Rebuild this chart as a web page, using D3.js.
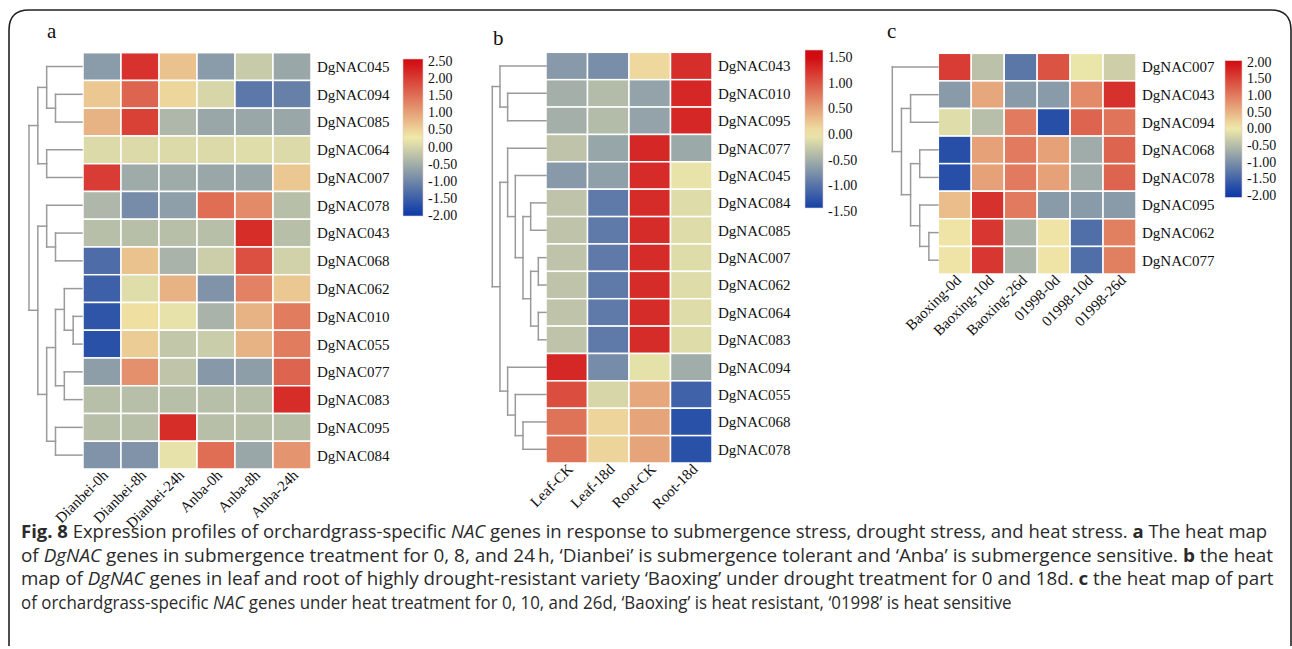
<!DOCTYPE html>
<html>
<head>
<meta charset="utf-8">
<script src="https://cdn.jsdelivr.net/npm/d3@7"></script>
<style>
  body { margin: 0; background: #fff; }
  text { font-family: "Liberation Serif", "Times New Roman", serif; fill: #111; }
  .cap text { font-family: "Open Sans", "Noto Sans", sans-serif; }
</style>
</head>
<body>
<div id="chart"></div>
<script>
// ---- panel a: submergence ----
const genesA = ["DgNAC045","DgNAC094","DgNAC085","DgNAC064","DgNAC007","DgNAC078","DgNAC043","DgNAC068",
                "DgNAC062","DgNAC010","DgNAC055","DgNAC077","DgNAC083","DgNAC095","DgNAC084"];
const samplesA = ["Dianbei-0h","Dianbei-8h","Dianbei-24h","Anba-0h","Anba-8h","Anba-24h"];
const valuesA = [
  [-0.75, 2.1, 0.65, -0.75, -0.15, -0.6],
  [0.6, 1.6, 0.45, 0.0, -1.2, -1.1],
  [0.8, 1.95, -0.4, -0.6, -0.6, -0.6],
  [0.05, 0.05, 0.05, 0.05, 0.08, 0.05],
  [2.0, -0.55, -0.55, -0.6, -0.6, 0.6],
  [-0.4, -0.95, -0.7, 1.5, 1.2, -0.3],
  [-0.3, -0.3, -0.3, -0.3, 2.15, -0.3],
  [-1.35, 0.65, -0.45, -0.1, 1.8, -0.05],
  [-1.5, 0.08, 0.8, -0.85, 1.3, 0.6],
  [-1.65, 0.35, 0.15, -0.45, 0.8, 1.35],
  [-1.7, 0.55, -0.2, -0.12, 0.8, 1.35],
  [-0.72, 1.15, -0.22, -0.78, -0.72, 1.6],
  [-0.3, -0.3, -0.3, -0.3, -0.3, 2.15],
  [-0.3, -0.3, 2.15, -0.3, -0.3, -0.3],
  [-0.85, -0.85, 0.15, 1.5, -0.6, 1.1]
];
// [height, child, child]
const treeA = [6,
  [5, [4, "DgNAC045", [3, "DgNAC094", "DgNAC085"]], [4, "DgNAC064", "DgNAC007"]],
  [5, [4, "DgNAC078", [3, "DgNAC043", "DgNAC068"]],
      [4, [3, [2, "DgNAC062", [1, "DgNAC010", "DgNAC055"]], [2, "DgNAC077", "DgNAC083"]],
          [3, "DgNAC095", "DgNAC084"]]]
];
const ticksA = [2.5, 2, 1.5, 1, 0.5, 0, -0.5, -1, -1.5, -2];

// ---- panel b: drought ----
const genesB = ["DgNAC043","DgNAC010","DgNAC095","DgNAC077","DgNAC045","DgNAC084","DgNAC085","DgNAC007",
                "DgNAC062","DgNAC064","DgNAC083","DgNAC094","DgNAC055","DgNAC068","DgNAC078"];
const samplesB = ["Leaf-CK","Leaf-18d","Root-CK","Root-18d"];
const valuesB = [
  [-0.68, -0.78, 0.12, 1.25],
  [-0.5, -0.4, -0.6, 1.3],
  [-0.5, -0.4, -0.6, 1.3],
  [-0.33, -0.58, 1.3, -0.55],
  [-0.68, -0.63, 1.28, -0.05],
  [-0.33, -0.95, 1.27, -0.12],
  [-0.33, -0.95, 1.27, -0.12],
  [-0.33, -0.95, 1.27, -0.12],
  [-0.33, -0.95, 1.27, -0.12],
  [-0.33, -0.95, 1.27, -0.12],
  [-0.33, -0.95, 1.27, -0.12],
  [1.3, -0.8, -0.08, -0.52],
  [1.05, -0.17, 0.45, -1.15],
  [0.8, 0.15, 0.47, -1.3],
  [0.8, 0.15, 0.47, -1.3]
];
const treeB = [7,
  [6, "DgNAC043", [5, "DgNAC010", "DgNAC095"]],
  [6, [5, "DgNAC077", [4, "DgNAC045", [3, [2, "DgNAC084", "DgNAC085"],
                                          [2, [1, "DgNAC007", "DgNAC062"], [1, "DgNAC064", "DgNAC083"]]]]],
      [5, "DgNAC094", [4, "DgNAC055", [3, "DgNAC068", "DgNAC078"]]]]
];
const ticksB = [1.5, 1, 0.5, 0, -0.5, -1, -1.5];

// ---- panel c: heat ----
const genesC = ["DgNAC007","DgNAC043","DgNAC094","DgNAC068","DgNAC078","DgNAC095","DgNAC062","DgNAC077"];
const samplesC = ["Baoxing-0d","Baoxing-10d","Baoxing-26d","01998-0d","01998-10d","01998-26d"];
const valuesC = [
  [1.55, -0.45, -1.3, 1.35, -0.05, -0.3],
  [-0.9, 0.6, -0.9, -0.9, 0.85, 1.65],
  [-0.15, -0.5, 1.0, -1.75, 1.2, 1.05],
  [-1.75, 0.65, 1.0, 0.65, -0.7, 1.2],
  [-1.75, 0.65, 1.0, 0.65, -0.7, 1.2],
  [0.4, 1.65, 1.0, -0.9, -0.9, -0.9],
  [0.05, 1.6, -0.6, 0.05, -1.4, 0.95],
  [0.05, 1.6, -0.6, 0.05, -1.4, 0.95]
];
const treeC = [5, "DgNAC007",
  [4, [3, "DgNAC043", "DgNAC094"],
      [3, [2, "DgNAC068", "DgNAC078"], [2, "DgNAC095", [1, "DgNAC062", "DgNAC077"]]]]
];
const ticksC = [2, 1.5, 1, 0.5, 0, -0.5, -1, -1.5, -2];

const colorStops = ["#0b39a8", "#f0eaa9", "#d10a12"];

const W = 1292, H = 649;
const svg = d3.select("#chart").append("svg").attr("width", W).attr("height", H);
const defs = svg.append("defs");

// frame
svg.append("path")
  .attr("d", "M9,646 V30 Q9,10 29,10 H1271 Q1291,10 1291,30 V646")
  .attr("fill", "none").attr("stroke", "#222").attr("stroke-width", 1.6);

const panels = [
  { id: "a", genes: genesA, samples: samplesA, values: valuesA, tree: treeA, ticks: ticksA,
    domain: [-2, 0.25, 2.5], hx: [83, 311], hy: [52.7, 469], tree_x: [82, 29],
    leg: { x: 403, w: 20, y0: 59, y1: 216, t0: 61, t1: 215 }, letter: [47, 38] },
  { id: "b", genes: genesB, samples: samplesB, values: valuesB, tree: treeB, ticks: ticksB,
    domain: [-1.5, 0, 1.5], hx: [546, 712], hy: [52.3, 463], tree_x: [546, 492.3],
    leg: { x: 805, w: 18, y0: 50, y1: 208, t0: 57, t1: 211 }, letter: [493, 45] },
  { id: "c", genes: genesC, samples: samplesC, values: valuesC, tree: treeC, ticks: ticksC,
    domain: [-2, 0, 2], hx: [938.3, 1136], hy: [53.3, 274], tree_x: [938, 892.3],
    leg: { x: 1225, w: 17, y0: 60.7, y1: 197.3, t0: 61.7, t1: 195 }, letter: [887, 38] }
];

panels.forEach(p => {
  const g = svg.append("g");
  const x = d3.scaleBand().domain(p.samples).range(p.hx);
  const y = d3.scaleBand().domain(p.genes).range(p.hy);
  const color = d3.scaleLinear().domain(p.domain).range(colorStops).interpolate(d3.interpolateRgb).clamp(true);

  const cells = [];
  p.genes.forEach((gene, i) => p.samples.forEach((s, j) => cells.push({ gene, s, v: p.values[i][j] })));

  g.selectAll("rect.cell").data(cells).enter().append("rect")
    .attr("class", "cell")
    .attr("x", d => x(d.s)).attr("y", d => y(d.gene))
    .attr("width", x.bandwidth()).attr("height", y.bandwidth())
    .attr("fill", d => color(d.v))
    .attr("stroke", "#fff").attr("stroke-width", 1.5);

  // gene labels
  g.selectAll("text.gene").data(p.genes).enter().append("text")
    .attr("x", p.hx[1] + 6)
    .attr("y", d => y(d) + y.bandwidth() / 2)
    .attr("dy", "0.36em")
    .style("font-size", "15px")
    .text(d => d);

  // sample labels
  g.selectAll("text.sample").data(p.samples).enter().append("text")
    .attr("transform", d => `translate(${x(d) + x.bandwidth() / 2 + 4},${p.hy[1] + 4}) rotate(-45)`)
    .attr("text-anchor", "end")
    .attr("dy", "0.3em")
    .style("font-size", "15px")
    .text(d => d);

  // dendrogram
  const root = d3.hierarchy(p.tree, d => Array.isArray(d) ? d.slice(1) : null);
  const maxH = p.tree[0];
  const tx = d3.scaleLinear().domain([0, maxH]).range(p.tree_x);
  root.eachAfter(n => {
    if (n.children) {
      n.h = n.data[0];
      n.py = (n.children[0].py + n.children[n.children.length - 1].py) / 2;
    } else {
      n.h = 0;
      n.py = y(n.data) + y.bandwidth() / 2;
    }
    n.px = tx(n.h);
  });
  const segs = [];
  root.each(n => {
    if (!n.children) return;
    segs.push([n.px, n.children[0].py, n.px, n.children[n.children.length - 1].py]);
    n.children.forEach(c => segs.push([n.px, c.py, c.px, c.py]));
  });
  g.selectAll("line.tree").data(segs).enter().append("line")
    .attr("x1", d => d[0]).attr("y1", d => d[1]).attr("x2", d => d[2]).attr("y2", d => d[3])
    .attr("stroke", "#9a9a9a").attr("stroke-width", 1.5).attr("stroke-linecap", "square");

  // colour legend
  const L = p.leg;
  const gid = "grad-" + p.id;
  const grad = defs.append("linearGradient").attr("id", gid)
    .attr("x1", 0).attr("y1", 0).attr("x2", 0).attr("y2", 1);
  const ly = d3.scaleLinear().domain([p.ticks[0], p.ticks[p.ticks.length - 1]]).range([L.t0, L.t1]);
  const vTop = ly.invert(L.y0), vBot = ly.invert(L.y1);
  d3.range(0, 1.0001, 0.05).forEach(t => {
    grad.append("stop").attr("offset", t).attr("stop-color", color(vTop + (vBot - vTop) * t));
  });
  g.append("rect").attr("x", L.x).attr("y", L.y0).attr("width", L.w).attr("height", L.y1 - L.y0)
    .attr("fill", `url(#${gid})`).attr("stroke", "#e6c9c9").attr("stroke-width", 0.6);
  g.selectAll("text.tick").data(p.ticks).enter().append("text")
    .attr("x", L.x + L.w + 5).attr("y", d => ly(d)).attr("dy", "0.36em")
    .style("font-size", "14px")
    .text(d => d.toFixed(2));

  g.append("text").attr("x", p.letter[0]).attr("y", p.letter[1])
    .style("font-size", "21px").text(p.id);
});

// caption
const captionLines = [
  { y: 538, w: 1247, parts: [["Fig. 8", "b"], [" Expression profiles of orchardgrass-specific "], ["NAC", "i"],
      [" genes in response to submergence stress, drought stress, and heat stress. "], ["a", "b"], [" The heat map"]] },
  { y: 561.5, w: 1253, parts: [["of "], ["DgNAC", "i"],
      [" genes in submergence treatment for 0, 8, and 24\u2009h, \u2018Dianbei\u2019 is submergence tolerant and \u2018Anba\u2019 is submergence sensitive. "],
      ["b", "b"], [" the heat"]] },
  { y: 585, w: 1254, parts: [["map of "], ["DgNAC", "i"],
      [" genes in leaf and root of highly drought-resistant variety \u2018Baoxing\u2019 under drought treatment for 0 and 18d. "],
      ["c", "b"], [" the heat map of part"]] },
  { y: 608.5, w: 991, parts: [["of orchardgrass-specific "], ["NAC", "i"],
      [" genes under heat treatment for 0, 10, and 26d, \u2018Baoxing\u2019 is heat resistant, \u201801998\u2019 is heat sensitive"]] }
];
const cap = svg.append("g").attr("class", "cap");
captionLines.forEach(line => {
  const t = cap.append("text").style("font-size", "18px").style("fill", "#2a2a2a");
  line.parts.forEach(([s, st]) => {
    const ts = t.append("tspan").text(s);
    if (st === "b") ts.style("font-weight", "bold");
    if (st === "i") ts.style("font-style", "italic");
  });
  const w = t.node().getComputedTextLength();
  t.attr("transform", `translate(21,${line.y}) scale(${line.w / w},1)`);
});
</script>
</body>
</html>
